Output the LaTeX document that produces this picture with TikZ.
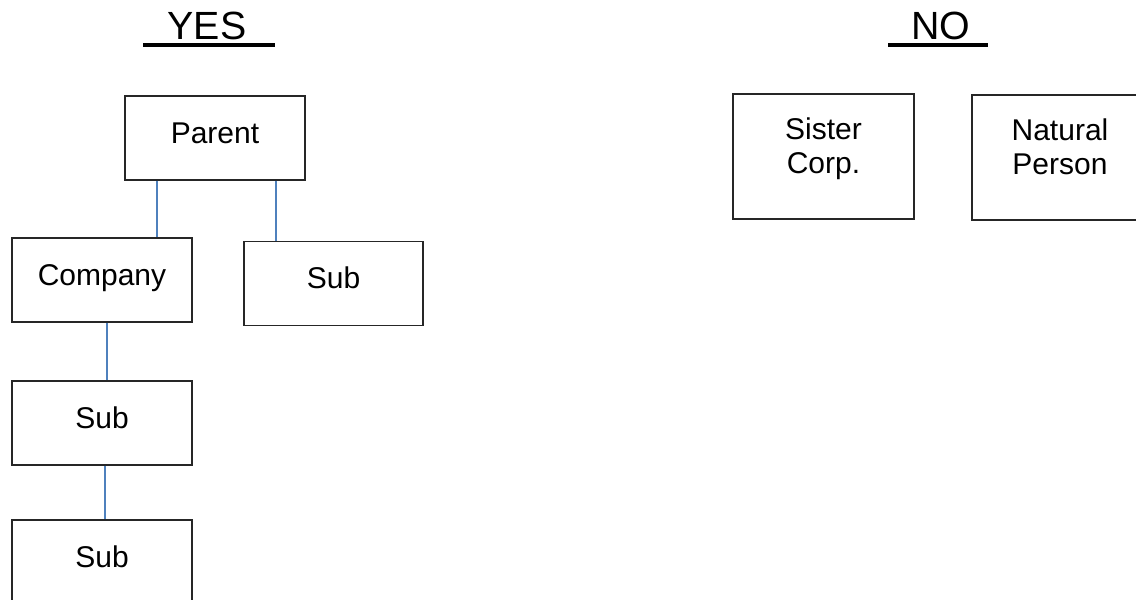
\documentclass[tikz,border=0pt]{standalone}
\usepackage{fontspec}
\setmainfont{Liberation Sans}
\usetikzlibrary{shapes.geometric}
\definecolor{boxline}{RGB}{38,38,38}
\definecolor{linkblue}{RGB}{79,129,189}
\tikzstyle{box} = [rectangle, draw=boxline, line width=1.1pt, minimum width=135pt, minimum height=63pt, text centered, align=center, font=\fontsize{22.5pt}{25pt}\selectfont, text height=16.5pt, text depth=9pt]
\tikzstyle{tallbox} = [box, minimum height=93.75pt, text height=41.25pt, text depth=16.5pt]
\tikzstyle{title} = [anchor=base, font=\fontsize{29.5pt}{34pt}\selectfont]
\tikzstyle{rule} = [line width=2.4pt]
\tikzstyle{link} = [draw=linkblue, line width=0.9pt]

\begin{document}
\begin{tikzpicture}[x=0.75pt, y=-0.75pt]
            \clip (0,0) rectangle (1136,600);
            \node [title] at (207,39) (yes) {YES};
            \node [title] at (941,39) (no) {NO};
            \draw [rule] (143,45) -- (275,45);
            \draw [rule] (888,45) -- (988,45);

            \node [box] at (215,138) (parent) {Parent};
            \node [box] at (102,280) (company) {Company};
            \node [box, minimum width=134.25pt] at (333.5,283.5) (subright) {Sub};
            \node [box] at (102,423) (subone) {Sub};
            \node [box] at (102,562) (subtwo) {Sub};
            \node [tallbox, minimum width=135.75pt] at (823.5,156.5) (sister) {Sister\\Corp.};
            \node [tallbox, minimum width=132pt] at (1060,157.5) (natural) {Natural\\Person};

            \draw [link] ([xshift=-43.5pt]parent.south) -- ([xshift=-43.5pt]parent.south |- company.north);
            \draw [link] ([xshift=45.75pt]parent.south) -- ([xshift=45.75pt]parent.south |- subright.north);
            \draw [link] ([xshift=3.75pt]company.south) -- ([xshift=3.75pt]company.south |- subone.north);
            \draw [link] ([xshift=2.25pt]subone.south) -- ([xshift=2.25pt]subone.south |- subtwo.north);
\end{tikzpicture}
\end{document}
